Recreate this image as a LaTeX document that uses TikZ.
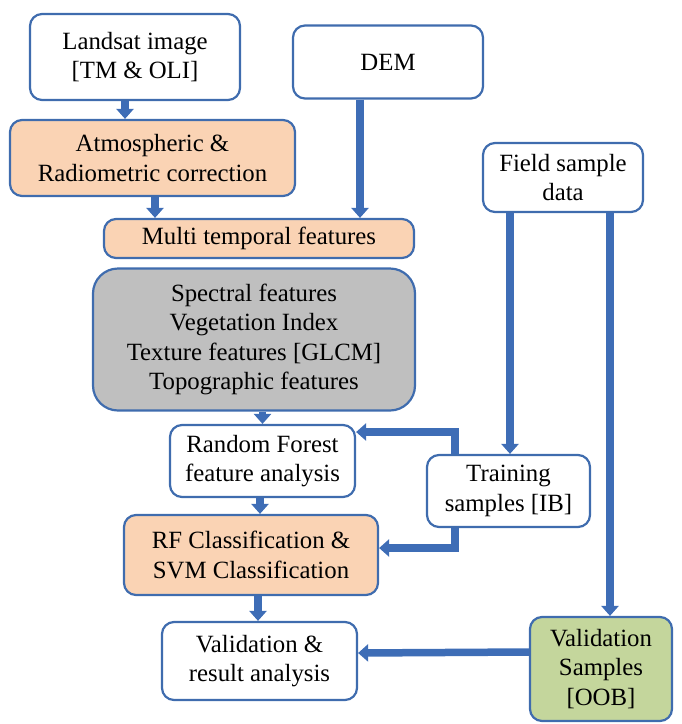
\documentclass[tikz,border=0pt]{standalone}
\usepackage{fontspec}
\setmainfont{Liberation Serif}
\usetikzlibrary{arrows.meta}
\definecolor{bord}{HTML}{3F6CAE}
\definecolor{flowc}{HTML}{3E6DB6}
\definecolor{peach}{HTML}{FAD3B4}
\definecolor{greyfill}{HTML}{BFBFBF}
\definecolor{olive}{HTML}{C4D69C}
\tikzset{
  box/.style={draw=bord, line width=2.2pt, rounded corners=12pt, fill=white,
    align=center, inner sep=0pt, font=\fontsize{24.8}{29.5}\selectfont},
  flow/.style={draw=flowc, line width=7.5pt,
    -{Triangle[width=17pt,length=10pt]}},
}
\begin{document}
\begin{tikzpicture}[x=1pt,y=-1pt]
\useasboundingbox (0,0) rectangle (682,724);
% input data
\node[box, minimum width=210pt, minimum height=86pt] (land) at (135,57) {Landsat image\\{}[TM \& OLI]};
\node[box, minimum width=190pt, minimum height=73pt] (dem) at (388,62) {DEM};
\node[box, minimum width=160pt, minimum height=69pt] (field) at (563,177.5) {Field sample\\data};
% preprocessing and features
\node[box, fill=peach, minimum width=285pt, minimum height=76pt] (atm) at (152.5,158) {Atmospheric \&\\Radiometric correction};
\node[box, fill=peach, minimum width=310pt, minimum height=39pt] (multi) at (259,238.5) {Multi temporal features};
\node[box, fill=greyfill, rounded corners=25pt, minimum width=322pt, minimum height=142pt] (feat) at (254,339.5) {Spectral features\\Vegetation Index\\Texture features [GLCM]\\Topographic features};
% analysis and classification
\node[box, minimum width=185pt, minimum height=72pt] (rf) at (262.5,461) {Random Forest\\feature analysis};
\node[box, minimum width=163pt, minimum height=72pt] (train) at (508.5,491) {Training\\samples [IB]};
\node[box, fill=peach, minimum width=254pt, minimum height=80pt] (cls) at (251,555) {RF Classification \&\\SVM Classification};
\node[box, minimum width=195pt, minimum height=78pt] (val) at (259.5,661) {Validation \&\\result analysis};
\node[box, fill=olive, minimum width=142pt, minimum height=104pt] (vs) at (601,669) {Validation\\Samples\\{}[OOB]};
% connectors
\draw[flow] ([xshift=-10pt]land.south) -- ([xshift=-27.5pt]atm.north);
\draw[flow] ([xshift=2.5pt]atm.south) -- ([xshift=-104pt]multi.north);
\draw[flow] ([xshift=-28pt]dem.south) -- ([xshift=101pt]multi.north);
\draw[flow] ([xshift=8.5pt]feat.south) -- (rf.north);
\draw[flow] ([xshift=-53pt]field.south) -- ([xshift=1.5pt]train.north);
\draw[flow] ([xshift=47pt]field.south) -- ([xshift=9pt]vs.north);
\draw[flow] ([xshift=-53.5pt]train.north) |- ([yshift=29pt]rf.east);
\draw[flow] ([xshift=-53.5pt]train.south) |- ([yshift=7pt]cls.east);
\draw[flow] ([xshift=-2.5pt]rf.south) -- ([xshift=9pt]cls.north);
\draw[flow] ([xshift=7pt]cls.south) -- ([xshift=-1.5pt]val.north);
\draw[flow] ([yshift=17pt]vs.west) -- ([yshift=8pt]val.east);
\end{tikzpicture}
\end{document}
